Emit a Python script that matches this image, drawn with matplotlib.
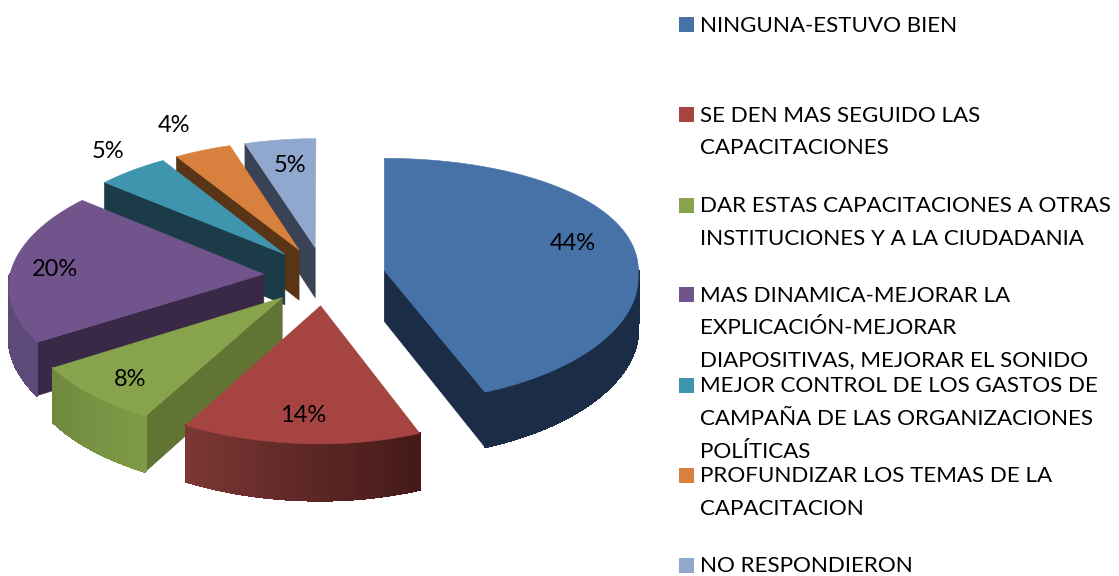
import numpy as np
import matplotlib
matplotlib.use('Agg')
import matplotlib.pyplot as plt
from matplotlib.patches import Polygon, Rectangle
from matplotlib.colors import to_rgb

# percent values, clockwise from 12 o'clock
values = [44, 14, 8, 20, 5, 4, 5]
labels = ['NINGUNA-ESTUVO BIEN',
          'SE DEN MAS SEGUIDO LAS\nCAPACITACIONES',
          'DAR ESTAS CAPACITACIONES A OTRAS\nINSTITUCIONES Y A LA CIUDADANIA',
          'MAS DINAMICA-MEJORAR LA\nEXPLICACIÓN-MEJORAR\nDIAPOSITIVAS, MEJORAR EL SONIDO',
          'MEJOR CONTROL DE LOS GASTOS DE\nCAMPAÑA DE LAS ORGANIZACIONES\nPOLÍTICAS',
          'PROFUNDIZAR LOS TEMAS DE LA\nCAPACITACION',
          'NO RESPONDIERON']
top_colors = ['#4672A8', '#A54441', '#87A44C', '#70548B', '#4095AE', '#D8803D', '#90A7CE']
cut_colors = ['#1A2C46', '#5A2422', '#627433', '#392947', '#1A3B47', '#5A3416', '#3A4354']
rim_left = ['#1A2C46', '#7B3735', '#6F8A3E', '#5E4A79', '#1A3B47', '#5A3416', '#3A4354']
rim_right = ['#1A2C46', '#431917', '#7F9A47', '#5E4A79', '#1A3B47', '#5A3416', '#3A4354']

pct_xy = [(573, 243), (303, 415), (130, 379), (55, 269), (108, 152), (174, 125), (290, 166)]
legend_y = [24, 114, 205, 294, 385, 475, 565]

cx, cy = 324.5, 276
rx, ry = 254, 122
persp = 0.08
depth = 51
explode = 0.24


def project(u, v, z=0.0):
    s = 1 / (1 + persp * v)
    # the source chart's x foreshortening is not symmetric, so it differs per quadrant
    if u > 0:
        k = 0.0 if v > 0 else 0.05
    else:
        k = 0.09 if v > 0 else 0.08
    sx = 1 / (1 + k * v)
    return cx + rx * u * sx, cy - ry * v * s + depth * z * s


fig = plt.figure(figsize=(11.19, 5.76), dpi=100)
ax = fig.add_axes([0, 0, 1, 1])
ax.set_xlim(0, 1119)
ax.set_ylim(576, 0)
ax.axis('off')

fracs = np.array(values) / sum(values) * 360
starts = np.concatenate([[0], np.cumsum(fracs)[:-1]])
ends = starts + fracs


def draw_slice(i):
    a, b = starts[i], ends[i]
    mid = np.radians((a + b) / 2)
    ox, oy = explode * np.sin(mid), explode * np.cos(mid)
    t = np.radians(np.linspace(a, b, 80))
    u = ox + np.sin(t)
    v = oy + np.cos(t)

    # cut faces
    for ang, vis in ((a, np.sin(np.radians(a)) < -1e-6), (b, np.sin(np.radians(b)) > 1e-6)):
        if vis:
            r = np.radians(ang)
            p1, p2 = (ox, oy), (ox + np.sin(r), oy + np.cos(r))
            quad = [project(*p1), project(*p2), project(*p2, 1), project(*p1, 1)]
            ax.add_patch(Polygon(quad, fc=cut_colors[i], ec=cut_colors[i], lw=0.5))

    # outer rim, front facing part only, shaded segment by segment
    lo, hi = max(a, 90), min(b, 270)
    if hi > lo:
        tr = np.linspace(lo, hi, 40)
        c0, c1 = np.array(to_rgb(rim_right[i])), np.array(to_rgb(rim_left[i]))
        for k in range(len(tr) - 1):
            r1, r2 = np.radians(tr[k]), np.radians(tr[k + 1])
            p1 = (ox + np.sin(r1), oy + np.cos(r1))
            p2 = (ox + np.sin(r2), oy + np.cos(r2))
            f = (k + 0.5) / (len(tr) - 1)
            col = c0 + (c1 - c0) * f
            ax.add_patch(Polygon([project(*p1), project(*p2), project(*p2, 1), project(*p1, 1)],
                                 fc=col, ec=col, lw=1.0, joinstyle='round', antialiased=False))

    # top face
    pts = [project(ox, oy)] + [project(x, y) for x, y in zip(u, v)]
    ax.add_patch(Polygon(pts, fc=top_colors[i], ec=top_colors[i], lw=0.4))


for i in [0, 6, 5, 4, 3, 2, 1]:
    draw_slice(i)

font = ['Lato', 'DejaVu Sans']
for val, (x, y) in zip(values, pct_xy):
    ax.text(x, y, f'{val}%', ha='center', va='center', fontsize=17, family=font, color='black')

for lab, y, col in zip(labels, legend_y, top_colors):
    ax.add_patch(Rectangle((679, y - 7.5), 15, 15, fc=col, ec='none'))
    for n, line in enumerate(lab.split('\n')):
        ax.text(700, y + 7.5 + n * 32.5, line, ha='left', va='baseline', fontsize=16.15, family=font, color='black')

fig.savefig('out.png', dpi=100)
